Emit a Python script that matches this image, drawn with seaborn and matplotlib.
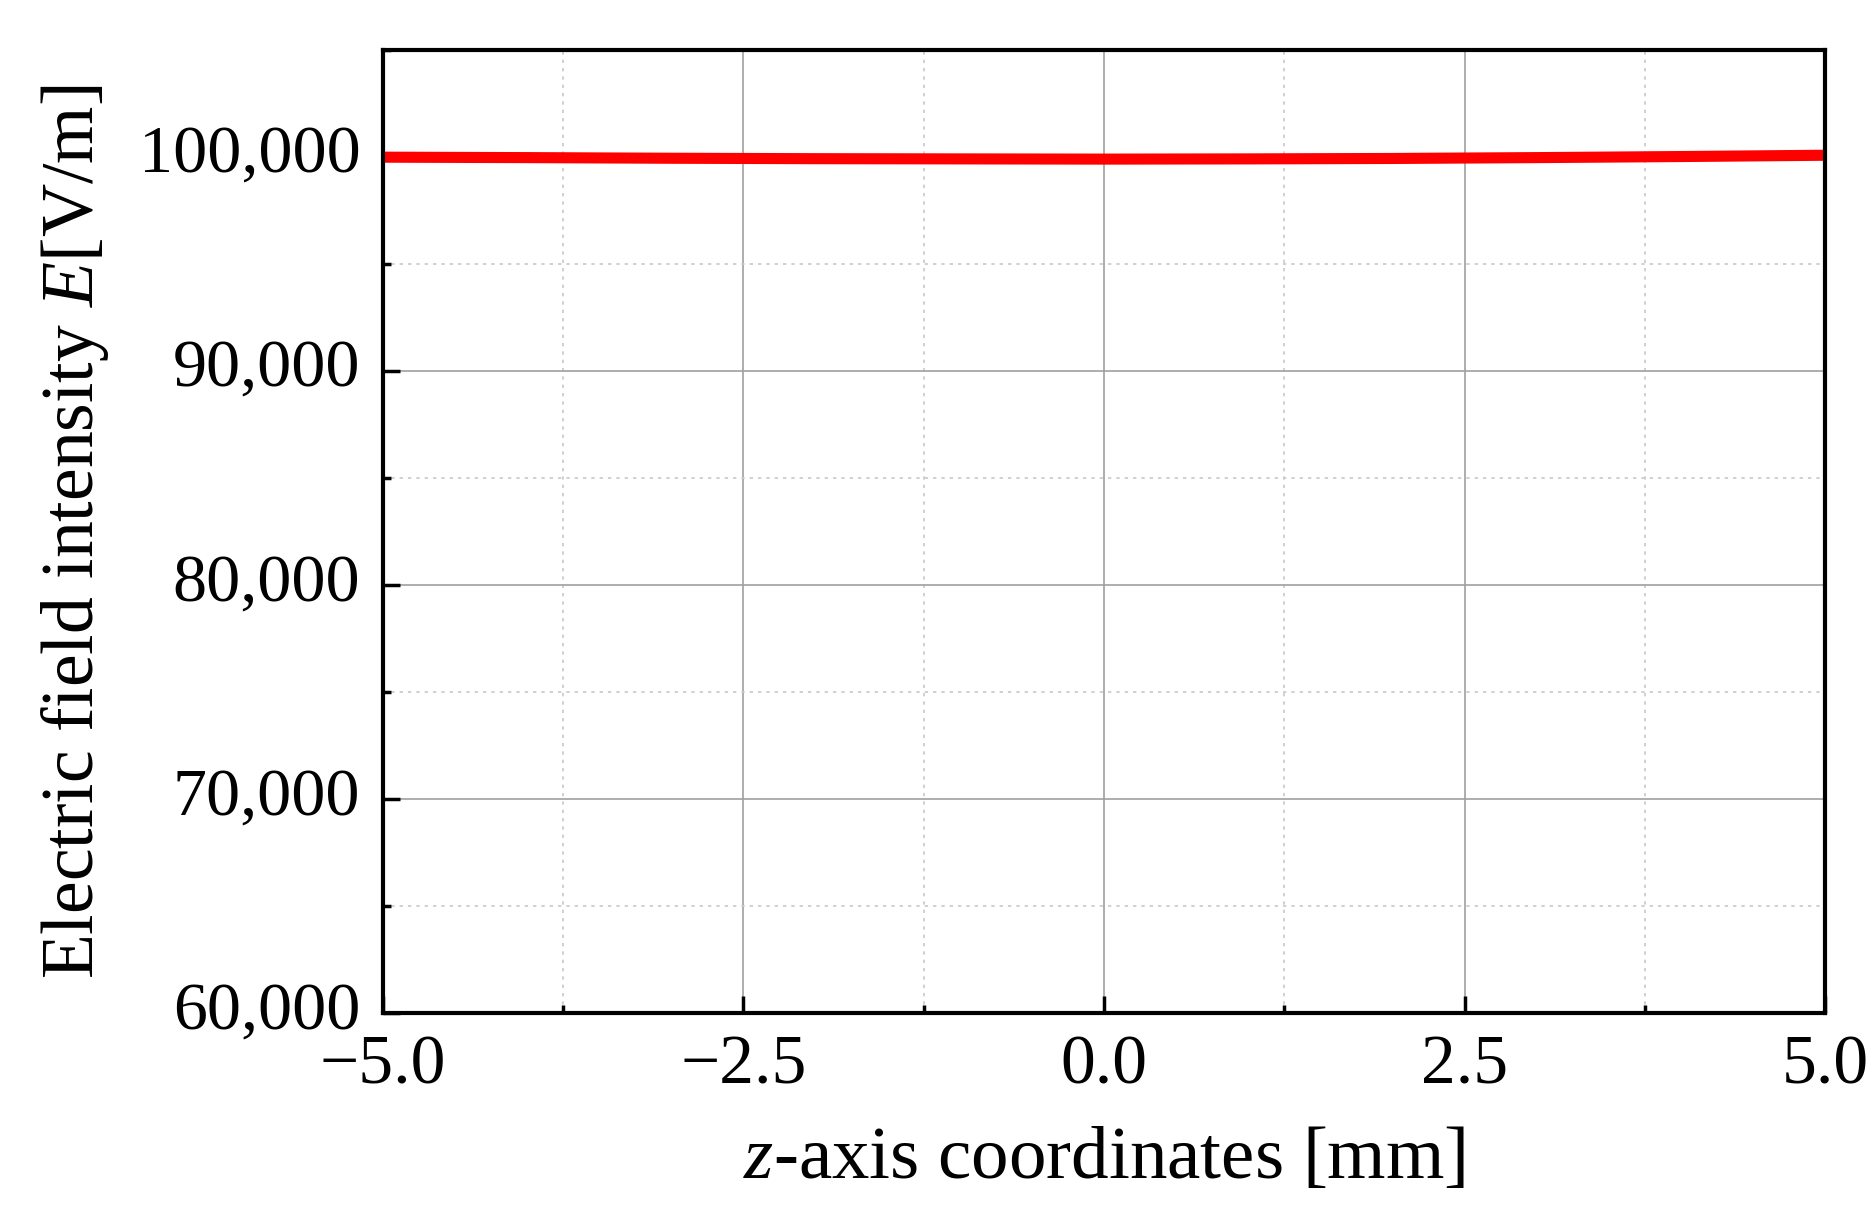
import numpy as np
import pandas as pd
import seaborn as sns
import matplotlib.pyplot as plt
import matplotlib.transforms as mtransforms
from matplotlib.ticker import MultipleLocator, FuncFormatter

# valores
z_mm = [-5.0, -4.0, -3.0, -2.0, -1.0, 0.0, 1.0, 2.0, 3.0, 4.0, 5.0]
e_field = [99980, 99960, 99930, 99910, 99900, 99890, 99900, 99920, 99960, 100010, 100070]

df = pd.DataFrame({'z': z_mm, 'E': e_field})

sns.set_style('white')
plt.rcParams['font.family'] = ['Liberation Serif', 'DejaVu Serif']
plt.rcParams['mathtext.fontset'] = 'custom'
plt.rcParams['mathtext.rm'] = 'Liberation Serif'
plt.rcParams['mathtext.it'] = 'Liberation Serif:italic'
plt.rcParams['text.color'] = 'black'
plt.rcParams['axes.labelcolor'] = 'black'
plt.rcParams['xtick.color'] = 'black'
plt.rcParams['ytick.color'] = 'black'

fig = plt.figure(figsize=(18.76, 12.12), dpi=100)
ax = fig.add_axes([0.204, 0.164, 0.769, 0.795])

sns.lineplot(data=df, x='z', y='E', ax=ax, color='#ff0000', linewidth=8)

ax.set_xlim(-5, 5)
ax.set_ylim(60000, 105000)
ax.xaxis.set_major_locator(MultipleLocator(2.5))
ax.xaxis.set_minor_locator(MultipleLocator(1.25))
ax.yaxis.set_major_locator(MultipleLocator(10000))
ax.yaxis.set_minor_locator(MultipleLocator(5000))
ax.xaxis.set_major_formatter(FuncFormatter(lambda v, p: f'{v:.1f}'.replace('-', '\u2212')))
ax.yaxis.set_major_formatter(FuncFormatter(lambda v, p: f'{int(v):,}'))

# rejilla: continua en mayores, punteada en menores
ax.grid(which='major', color='#a0a0a0', linewidth=1.2, linestyle='-')
ax.grid(which='minor', color='#c8c8c8', linewidth=1.2, linestyle=(0, (2, 3)))
ax.set_axisbelow(True)

for s in ax.spines.values():
    s.set_linewidth(3)
    s.set_color('black')

ax.tick_params(which='major', direction='in', length=12, width=2.5,
               bottom=True, left=True, top=False, right=False)
ax.tick_params(axis='x', which='major', labelsize=50, pad=16)
ax.tick_params(axis='y', which='major', labelsize=49, pad=16)
ax.tick_params(which='minor', direction='in', length=6, width=2.5,
               bottom=True, left=True, top=False, right=False)

# etiquetas del eje y un poco hacia arriba, como en el original
shift = mtransforms.ScaledTranslation(0, 6 / 72, fig.dpi_scale_trans)
for lab in ax.get_yticklabels():
    lab.set_transform(lab.get_transform() + shift)

ax.set_xlabel('$z$-axis coordinates [mm]', fontsize=54, labelpad=20)
ax.set_ylabel('Electric field intensity $E$[V/m]', fontsize=53, labelpad=20)

plt.savefig('out.png', dpi=100)
